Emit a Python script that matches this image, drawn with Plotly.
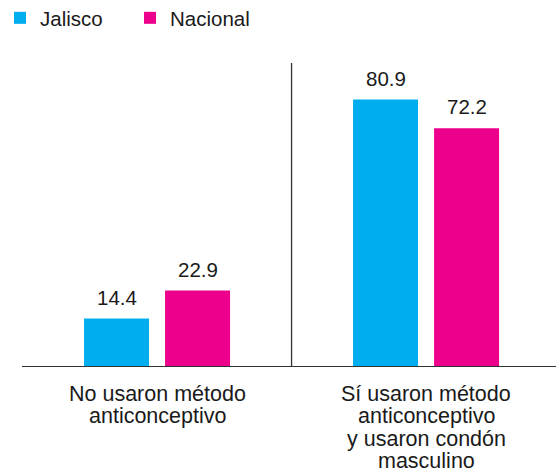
import plotly.graph_objects as go

# Share of respondents (%) by contraceptive use at first sexual intercourse
categories = ["No usaron método<br>anticonceptivo",
              "Sí usaron método<br>anticonceptivo<br>y usaron condón<br>masculino"]
jalisco = [14.4, 80.9]
nacional = [22.9, 72.2]

series = [("Jalisco", jalisco, "#00AEEF", -0.1506),
          ("Nacional", nacional, "#EC008C", 0.1506)]

FONT = "Liberation Sans, Arial, sans-serif"
TEXT = "#1a1a1a"
BAR_W = 0.2416
LINE_H = 22.6  # tight leading for the category labels

fig = go.Figure()
xs = list(range(len(categories)))
annotations = []
for name, vals, color, off in series:
    fig.add_trace(go.Bar(
        name=name, x=xs, y=vals, width=BAR_W, offset=off - BAR_W / 2,
        marker=dict(color=color, line=dict(width=0)),
    ))
    for i, v in zip(xs, vals):
        annotations.append(dict(
            x=i + off, y=v, xref="x", yref="y", text=f"{v:.1f}",
            showarrow=False, yanchor="bottom", yshift=8,
            font=dict(family=FONT, size=20.5, color=TEXT),
        ))

# Category labels below the baseline, one annotation per line
for i, label in zip(xs, categories):
    for k, line in enumerate(label.split("<br>")):
        annotations.append(dict(
            x=i, y=0, xref="x", yref="paper", text=line,
            showarrow=False, xanchor="center", yanchor="middle",
            yshift=-27.5 - k * LINE_H,
            font=dict(family=FONT, size=21.5, color=TEXT),
        ))

fig.update_layout(
    width=556, height=468,
    margin=dict(l=22, r=0, t=63, b=102, autoexpand=False),
    paper_bgcolor="white", plot_bgcolor="white",
    barmode="overlay",
    showlegend=True,
    legend=dict(orientation="h", x=-22 / 534, xanchor="left",
                y=1 + 65 / 303, yanchor="top",
                font=dict(family=FONT, size=20.5, color=TEXT),
                entrywidth=85, itemwidth=30, traceorder="normal"),
    annotations=annotations,
    xaxis=dict(range=[-0.502, 1.483], tickvals=xs, showticklabels=False,
               showgrid=False, zeroline=False,
               showline=True, linecolor="#333333", linewidth=1.3,
               ticks="", automargin=False),
    yaxis=dict(range=[0, 92], visible=False, fixedrange=True,
               automargin=False),
    shapes=[dict(type="line", xref="x", yref="paper", x0=0.5, x1=0.5,
                 y0=0, y1=1, line=dict(color="#333333", width=1.3))],
)

fig.write_html("out.html")
